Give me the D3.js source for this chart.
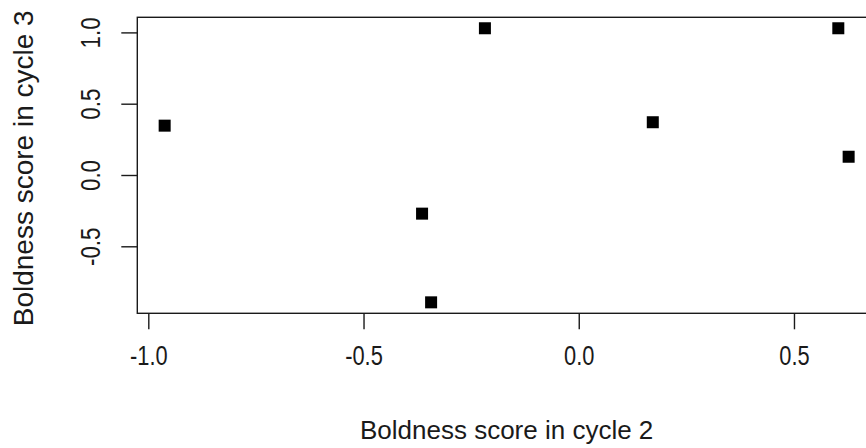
<!DOCTYPE html>
<html>
<head>
<meta charset="utf-8">
<script src="https://cdn.jsdelivr.net/npm/d3@7"></script>
<style>
  html, body { margin: 0; padding: 0; background: #fff; overflow: hidden; }
  svg { display: block; font-family: "Liberation Sans", Arial, sans-serif; }
</style>
</head>
<body>
<svg id="chart" width="866" height="448"></svg>
<script>
// boldness scores, one point per individual
const cycle2 = [-0.962, -0.218, 0.603, 0.627, 0.172, -0.364, -0.343];
const cycle3 = [0.346, 1.029, 1.029, 0.128, 0.370, -0.271, -0.893];
const xTicks = [-1.0, -0.5, 0.0, 0.5];
const yTicks = [-0.5, 0.0, 0.5, 1.0];
const xTitle = 'Boldness score in cycle 2';
const yTitle = 'Boldness score in cycle 3';

const box = { left: 137.3, top: 17.3, right: 876, bottom: 313.3 };
const ink = '#1a1a1a';

// R-style 4% padding around the data range
const pad = ([lo, hi]) => { const r = hi - lo; return [lo - 0.04 * r, hi + 0.04 * r]; };

const x = d3.scaleLinear().domain(pad(d3.extent(cycle2))).range([box.left, box.right]);
const y = d3.scaleLinear().domain(pad(d3.extent(cycle3))).range([box.bottom, box.top]);

const svg = d3.select('#chart');
const fmt = d => d3.format('.1f')(d).replace('−', '-');

svg.append('rect')
  .attr('x', box.left).attr('y', box.top)
  .attr('width', box.right - box.left).attr('height', box.bottom - box.top)
  .attr('fill', 'none').attr('stroke', ink).attr('stroke-width', 1.4);

// tick labels in the source are tall and narrow, so squeeze along the text
const gx = svg.append('g')
  .attr('transform', `translate(0,${box.bottom})`)
  .call(d3.axisBottom(x).tickValues(xTicks).tickSize(16).tickFormat(fmt));
gx.select('.domain').remove();
gx.selectAll('line').attr('stroke', ink).attr('stroke-width', 1.4);
gx.selectAll('text')
  .attr('y', 52).attr('dy', 0)
  .attr('transform', 'scale(0.78,1)')
  .attr('font-size', 28).attr('font-family', null).attr('fill', ink);

const gy = svg.append('g')
  .attr('transform', `translate(${box.left},0)`)
  .call(d3.axisLeft(y).tickValues(yTicks).tickSize(16).tickFormat(fmt));
gy.select('.domain').remove();
gy.selectAll('line').attr('stroke', ink).attr('stroke-width', 1.4);
gy.selectAll('text')
  .attr('transform', 'rotate(-90) scale(0.8,1)')
  .attr('x', 0).attr('y', -37).attr('dy', 0)
  .attr('text-anchor', 'middle')
  .attr('font-size', 28).attr('font-family', null).attr('fill', ink);

svg.append('text')
  .attr('x', (box.left + box.right) / 2).attr('y', 439)
  .attr('text-anchor', 'middle').attr('font-size', 26).attr('fill', ink)
  .text(xTitle);

svg.append('text')
  .attr('transform', `translate(33,${(box.top + box.bottom) / 2 + 3}) rotate(-90)`)
  .attr('text-anchor', 'middle').attr('font-size', 28).attr('fill', ink)
  .text(yTitle);

const size = 12;
svg.append('g').selectAll('rect')
  .data(cycle2.map((v, i) => [v, cycle3[i]]))
  .join('rect')
  .attr('x', d => x(d[0]) - size / 2)
  .attr('y', d => y(d[1]) - size / 2)
  .attr('width', size).attr('height', size)
  .attr('fill', '#000');
</script>
</body>
</html>
